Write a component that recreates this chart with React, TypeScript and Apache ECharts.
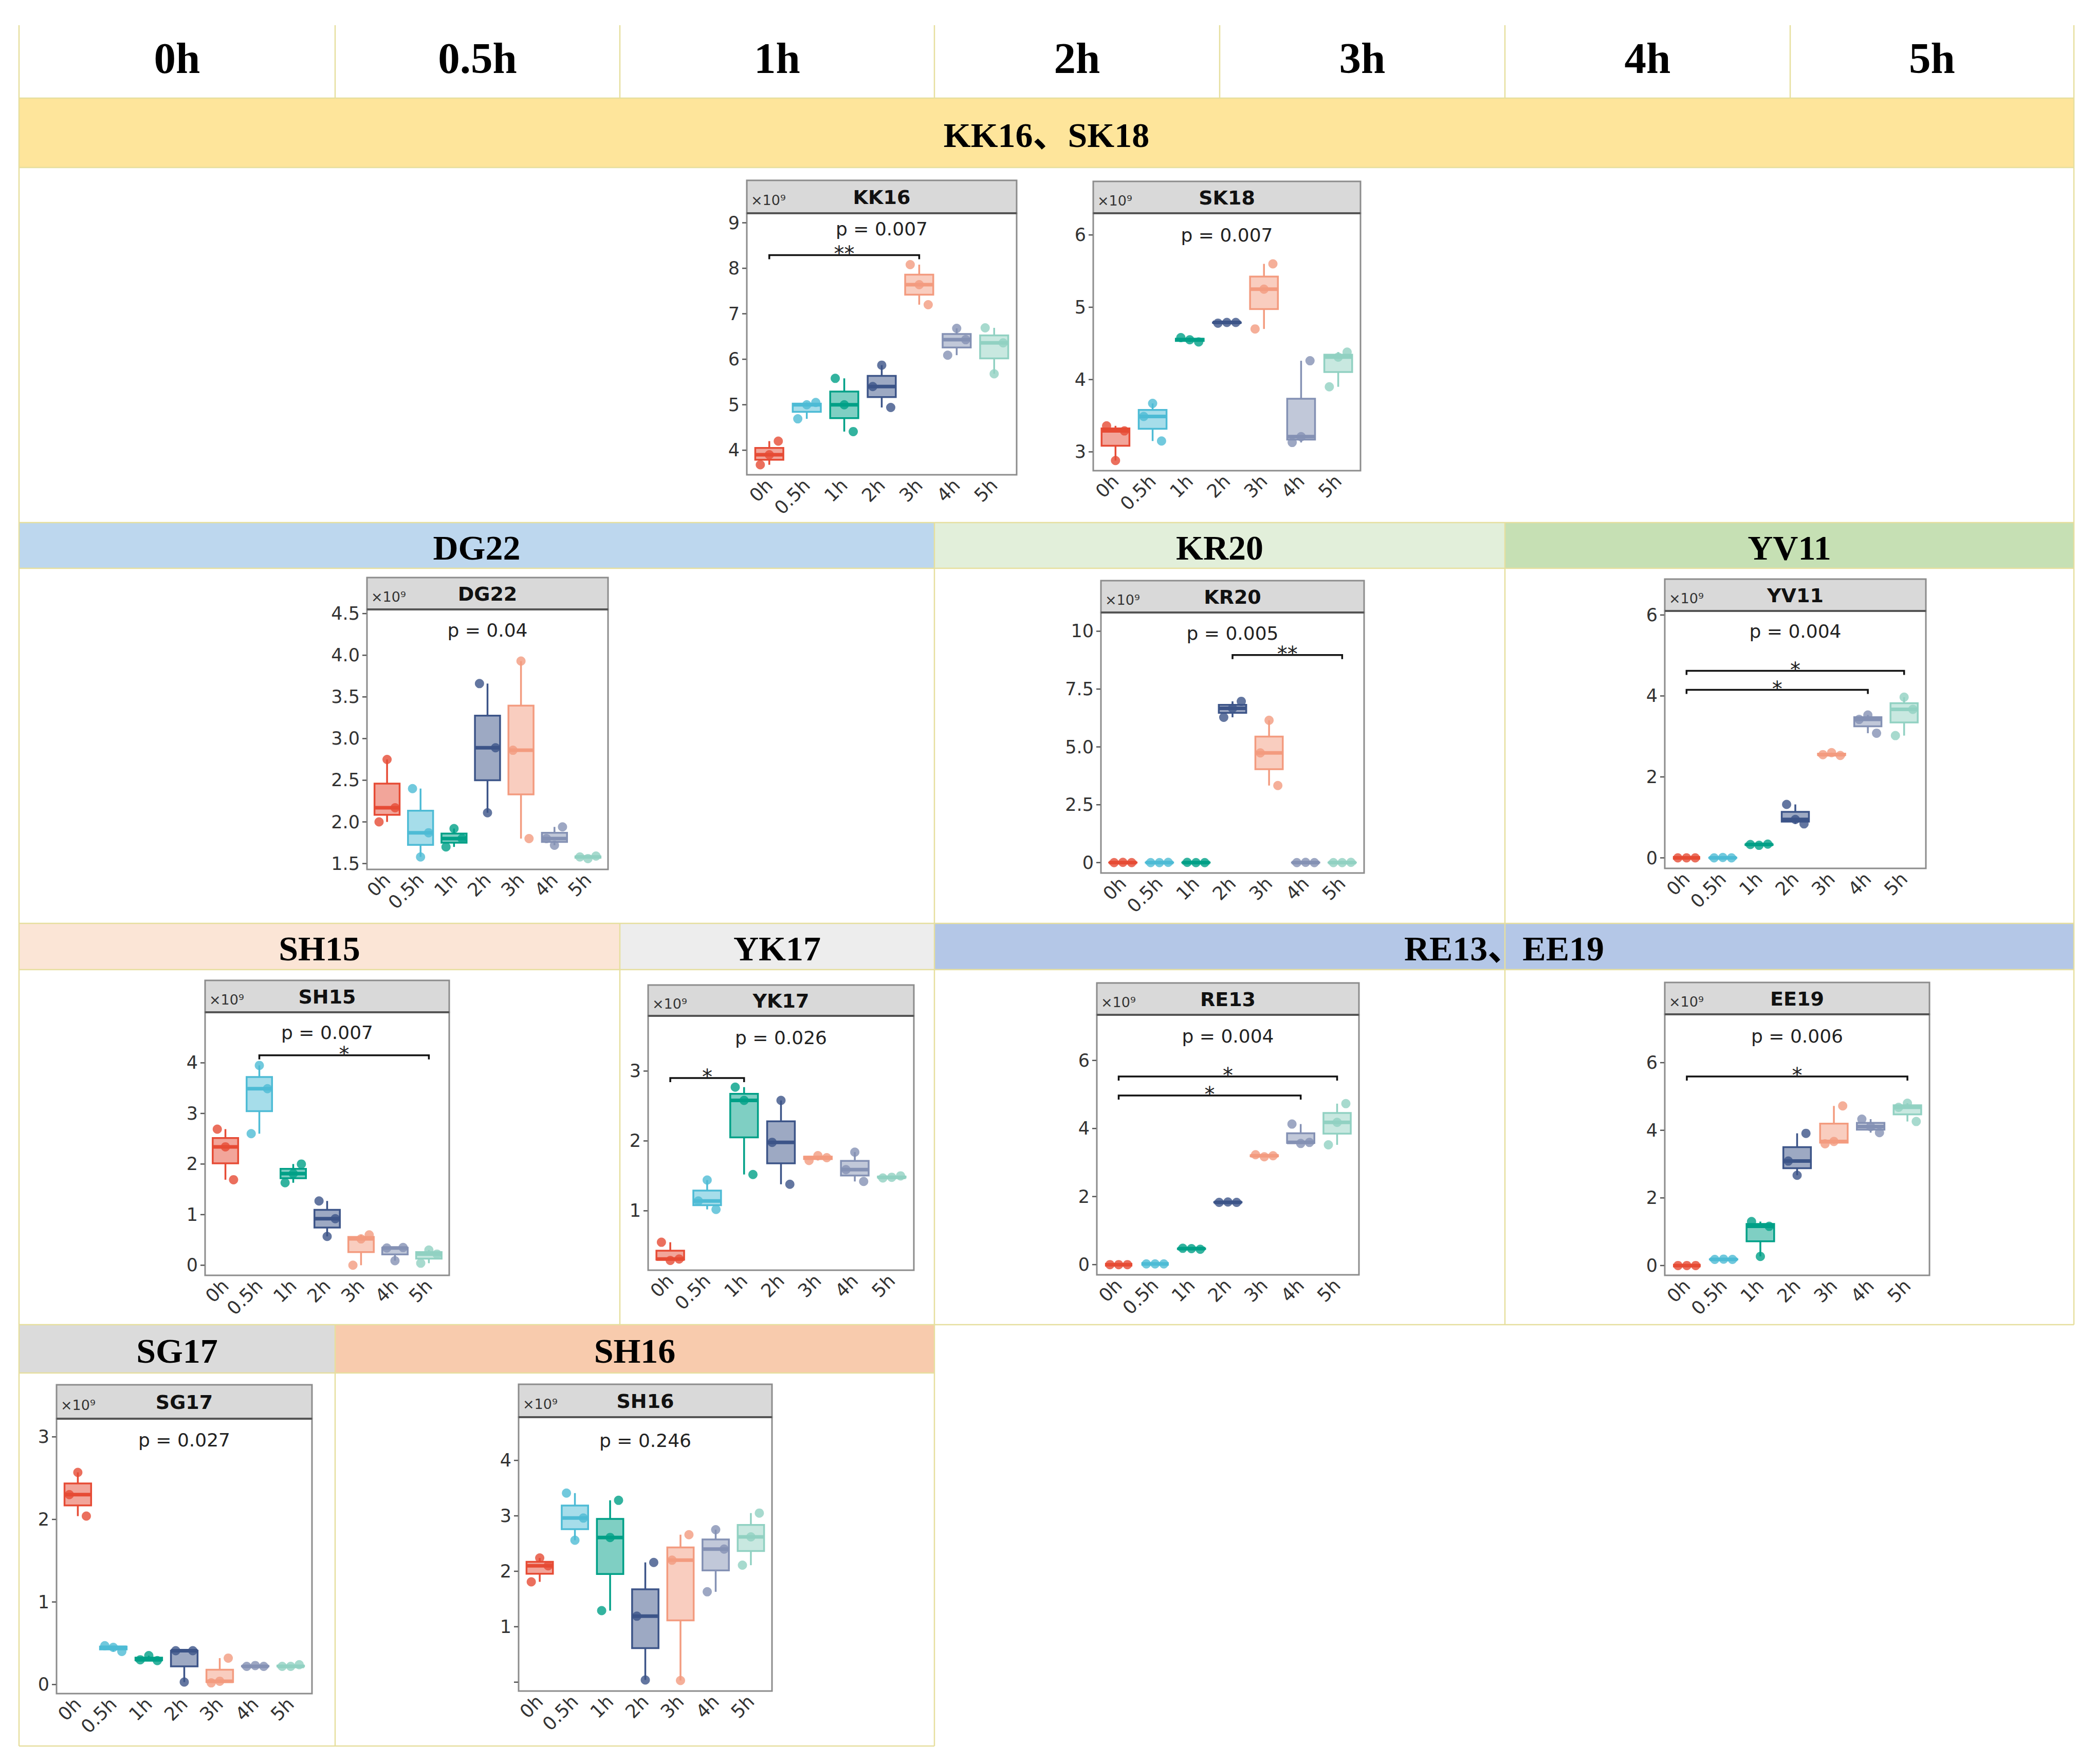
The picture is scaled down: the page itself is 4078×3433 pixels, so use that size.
import React, { useEffect, useRef } from "react";
import * as echarts from "echarts";

// ---------------- DATA ----------------
const CATEGORIES = ["0h", "0.5h", "1h", "2h", "3h", "4h", "5h"];
const HEADER_LABELS = ["0h", "0.5h", "1h", "2h", "3h", "4h", "5h"];
const BAND_LABELS = ["KK16、SK18", "DG22", "KR20", "YV11", "SH15", "YK17", "RE13、EE19", "SG17", "SH16"];
const PANEL_NAMES = ["KK16", "SK18", "DG22", "KR20", "YV11", "SH15", "YK17", "RE13", "EE19", "SG17", "SH16"];

// three replicates per time point (×10^9), listed in jitter order (left → right)
const KK16_VALUES = [[3.68, 3.9, 4.2], [4.69, 5.0, 5.05], [5.58, 5.0, 4.41], [5.4, 5.87, 4.94], [8.08, 7.64, 7.2], [6.09, 6.68, 6.43], [6.69, 5.68, 6.36]];
const SK18_VALUES = [[3.36, 2.88, 3.29], [3.49, 3.67, 3.15], [4.58, 4.55, 4.52], [4.78, 4.79, 4.79], [4.7, 5.25, 5.6], [3.13, 3.21, 4.26], [3.9, 4.31, 4.38]];
const DG22_VALUES = [[2.0, 2.75, 2.17], [2.4, 1.58, 1.87], [1.7, 1.92, 1.8], [3.66, 2.11, 2.89], [2.86, 3.93, 1.8], [1.8, 1.72, 1.94], [1.58, 1.56, 1.59]];
const KR20_VALUES = [[0.0, 0.01, 0.0], [0.0, 0.0, 0.01], [0.01, 0.0, 0.0], [6.28, 6.67, 6.97], [4.74, 6.15, 3.33], [0.0, 0.01, 0.0], [0.0, 0.0, 0.01]];
const YV11_VALUES = [[0.0, 0.0, 0.0], [0.0, 0.01, 0.0], [0.33, 0.31, 0.34], [1.32, 0.95, 0.84], [2.55, 2.6, 2.53], [3.42, 3.53, 3.08], [3.02, 3.97, 3.67]];
const SH15_VALUES = [[2.69, 2.34, 1.69], [2.6, 3.95, 3.49], [1.63, 1.81, 2.0], [1.27, 0.57, 0.92], [0.0, 0.52, 0.6], [0.34, 0.09, 0.35], [0.04, 0.3, 0.22]];
const YK17_VALUES = [[0.55, 0.29, 0.31], [1.14, 1.44, 1.02], [2.77, 2.58, 1.52], [1.98, 2.58, 1.38], [1.72, 1.79, 1.76], [1.59, 1.84, 1.42], [1.47, 1.48, 1.5]];
const RE13_VALUES = [[0.0, 0.0, 0.0], [0.02, 0.02, 0.02], [0.48, 0.47, 0.45], [1.83, 1.84, 1.83], [3.23, 3.17, 3.2], [4.13, 3.56, 3.59], [3.52, 4.18, 4.73]];
const EE19_VALUES = [[0.0, 0.0, 0.0], [0.18, 0.19, 0.18], [1.3, 0.27, 1.16], [3.09, 2.67, 3.91], [3.6, 3.67, 4.72], [4.33, 4.11, 3.93], [4.68, 4.8, 4.26]];
const SG17_VALUES = [[2.3, 2.57, 2.04], [0.47, 0.45, 0.4], [0.3, 0.35, 0.29], [0.41, 0.03, 0.41], [0.02, 0.04, 0.32], [0.22, 0.23, 0.22], [0.22, 0.22, 0.24]];
const SH16_VALUES = [[1.81, 2.24, 2.1], [3.41, 2.56, 2.96], [1.29, 2.61, 3.28], [1.19, 0.04, 2.16], [2.2, 0.03, 2.66], [1.63, 2.75, 2.4], [2.11, 2.62, 3.05]];

const PANEL_VALUES = [KK16_VALUES, SK18_VALUES, DG22_VALUES, KR20_VALUES, YV11_VALUES, SH15_VALUES, YK17_VALUES, RE13_VALUES, EE19_VALUES, SG17_VALUES, SH16_VALUES];

const Y_MIN = [3.46, 2.74, 1.43, -0.45, -0.26, -0.2, 0.15, -0.3, -0.29, -0.11, -0.16];
const Y_MAX = [9.21, 6.3, 4.55, 10.81, 6.1, 5.0, 3.79, 7.34, 7.43, 3.22, 4.78];
const Y_TICKS = [[4, 5, 6, 7, 8, 9], [3, 4, 5, 6], [1.5, 2, 2.5, 3, 3.5, 4, 4.5], [0, 2.5, 5, 7.5, 10], [0, 2, 4, 6], [0, 1, 2, 3, 4], [1, 2, 3], [0, 2, 4, 6], [0, 2, 4, 6], [0, 1, 2, 3], [0, 1, 2, 3, 4]];
const Y_TICK_LABELS = [
  ["4", "5", "6", "7", "8", "9"], ["3", "4", "5", "6"], ["1.5", "2.0", "2.5", "3.0", "3.5", "4.0", "4.5"],
  ["0", "2.5", "5.0", "7.5", "10"], ["0", "2", "4", "6"], ["0", "1", "2", "3", "4"], ["1", "2", "3"],
  ["0", "2", "4", "6"], ["0", "2", "4", "6"], ["0", "1", "2", "3"], ["", "1", "2", "3", "4"],
];
const P_LABELS = ["p = 0.007", "p = 0.007", "p = 0.04", "p = 0.005", "p = 0.004", "p = 0.007", "p = 0.026", "p = 0.004", "p = 0.006", "p = 0.027", "p = 0.246"];
const P_LABEL_Y = [8.86, 6.0, 4.3, 9.9, 5.6, 4.6, 3.48, 6.72, 6.78, 2.96, 4.36];
// [from group, to group, y value, label]
const BRACKETS: [number, number, number, string][][] = [
  [[0, 4, 8.29, "**"]], [], [], [[3, 6, 8.97, "**"]],
  [[0, 6, 4.62, "*"], [0, 5, 4.15, "*"]], [[1, 6, 4.15, "*"]], [[0, 2, 2.9, "*"]],
  [[0, 6, 5.53, "*"], [0, 5, 4.97, "*"]], [[0, 6, 5.59, "*"]], [], [],
];

// ---------------- LAYOUT & STYLE ----------------
const W = 4078;
const H = 3433;
const GROUP_COLORS = ["#E64B35", "#4DBBD5", "#00A087", "#3C5488", "#F39B7F", "#8491B4", "#91D1C2"];
const COL_X = [37, 652, 1206, 1818, 2373, 2928, 3483, 4035];
const BAND_RECTS = [
  [37, 4035, 191, 326], [37, 1818, 1017, 1106], [1818, 2928, 1017, 1106], [2928, 4035, 1017, 1106],
  [37, 1206, 1797, 1887], [1206, 1818, 1797, 1887], [1818, 4035, 1797, 1887],
  [37, 652, 2578, 2672], [652, 1818, 2578, 2672],
];
const BAND_COLORS = ["#FEE59B", "#BDD7EE", "#E2EFDA", "#C6E0B4", "#FBE5D6", "#EDEDED", "#B4C7E7", "#DBDBDB", "#F8CBAD"];
const BORDER = "#E6DF9E";
const V_LINES = [
  [37, 49, 3398], [4035, 49, 2578],
  [652, 49, 191], [1206, 49, 191], [2373, 49, 191], [2928, 49, 191], [3483, 49, 191], [1818, 49, 191],
  [1818, 1017, 3398], [2928, 1017, 2578], [1206, 1797, 2578], [652, 2578, 3398],
];
const H_LINES = [
  [191, 37, 4035], [326, 37, 4035], [1017, 37, 4035], [1106, 37, 4035],
  [1797, 37, 4035], [1887, 37, 4035], [2578, 37, 4035], [2672, 37, 1818], [3398, 37, 1818],
];
// [left, right, strip top, strip bottom (= plot top), plot bottom]
const PANEL_BOXES = [
  [1453, 1978, 351, 415, 924],
  [2127, 2647, 353, 415, 916],
  [714, 1183, 1124, 1186, 1692],
  [2142, 2654, 1130, 1192, 1699],
  [3239, 3747, 1127, 1189, 1690],
  [399, 874, 1908, 1970, 2482],
  [1261, 1778, 1917, 1977, 2472],
  [2134, 2644, 1913, 1975, 2481],
  [3239, 3754, 1912, 1974, 2482],
  [110, 607, 2695, 2761, 3296],
  [1009, 1502, 2694, 2758, 3291],
];
const X_MIN = -0.6;
const X_MAX = 6.6;
const JITTER = [-0.24, 0.0, 0.24];
const BOX_W = 0.75;
const LW = 3.5;
const TICK_LEN = 9;
const SANS = "DejaVu Sans";
const SERIF = "'Liberation Serif', 'Noto Sans CJK SC', serif";

function quantile(s: number[], p: number) {
  const h = (s.length - 1) * p;
  const lo = Math.floor(h);
  const hi = Math.min(lo + 1, s.length - 1);
  return s[lo] + (h - lo) * (s[hi] - s[lo]);
}
function boxStats(vals: number[]) {
  const s = [...vals].sort((a, b) => a - b);
  const q1 = quantile(s, 0.25), med = quantile(s, 0.5), q3 = quantile(s, 0.75);
  const iqr = q3 - q1;
  const lo = s.find((v) => v >= q1 - 1.5 * iqr) as number;
  const hi = [...s].reverse().find((v) => v <= q3 + 1.5 * iqr) as number;
  return [lo, q1, med, q3, hi];
}
function rgba(hex: string, a: number) {
  const n = parseInt(hex.slice(1), 16);
  return `rgba(${(n >> 16) & 255},${(n >> 8) & 255},${n & 255},${a})`;
}

function buildOption() {
  const grids: any[] = [];
  const xAxes: any[] = [];
  const yAxes: any[] = [];
  const series: any[] = [];
  const graphics: any[] = [];

  // table
  BAND_RECTS.forEach((r, i) => {
    graphics.push({ type: "rect", z: 0, shape: { x: r[0], y: r[2], width: r[1] - r[0], height: r[3] - r[2] }, style: { fill: BAND_COLORS[i] } });
    graphics.push({
      type: "text", z: 5, x: (r[0] + r[1]) / 2, y: (r[2] + r[3]) / 2 + 4,
      style: { text: BAND_LABELS[i], fontFamily: SERIF, fontWeight: "bold", fontSize: 68, fill: "#000", align: "center", verticalAlign: "middle", textAlign: "center", textVerticalAlign: "middle" },
    });
  });
  V_LINES.forEach((l) => graphics.push({ type: "line", z: 1, shape: { x1: l[0], y1: l[1], x2: l[0], y2: l[2] }, style: { stroke: BORDER, lineWidth: 2.5 } }));
  H_LINES.forEach((l) => graphics.push({ type: "line", z: 1, shape: { x1: l[1], y1: l[0], x2: l[2], y2: l[0] }, style: { stroke: BORDER, lineWidth: 2.5 } }));
  HEADER_LABELS.forEach((t, i) => {
    graphics.push({
      type: "text", z: 5, x: (COL_X[i] + COL_X[i + 1]) / 2, y: 113,
      style: { text: t, fontFamily: SERIF, fontWeight: "bold", fontSize: 85, fill: "#000", align: "center", verticalAlign: "middle", textAlign: "center", textVerticalAlign: "middle" },
    });
  });

  PANEL_NAMES.forEach((name, k) => {
    const [x0, x1, st, sb, pb] = PANEL_BOXES[k];
    // strip
    graphics.push({ type: "rect", z: 10, shape: { x: x0, y: st, width: x1 - x0, height: sb - st }, style: { fill: "#D9D9D9", stroke: "#8C8C8C", lineWidth: 3 } });
    graphics.push({ type: "line", z: 11, shape: { x1: x0, y1: sb, x2: x1, y2: sb }, style: { stroke: "#555", lineWidth: 4 } });
    graphics.push({
      type: "text", z: 12, x: (x0 + x1) / 2, y: (st + sb) / 2 + 1,
      style: { text: name, fontFamily: SANS, fontWeight: "bold", fontSize: 38, fill: "#111", align: "center", verticalAlign: "middle", textAlign: "center", textVerticalAlign: "middle" },
    });
    graphics.push({
      type: "text", z: 12, x: x0 + 8, y: st + (sb - st) * 0.6,
      style: { text: "×10⁹", fontFamily: SANS, fontSize: 27, fill: "#333", align: "left", verticalAlign: "middle", textAlign: "left", textVerticalAlign: "middle" },
    });

    grids.push({ left: x0, top: sb, width: x1 - x0, height: pb - sb, show: true, borderColor: "#8C8C8C", borderWidth: 3, backgroundColor: "#fff", containLabel: false });
    xAxes.push({
      gridIndex: k, type: "value", min: X_MIN, max: X_MAX,
      axisLine: { show: false }, splitLine: { show: false }, axisTick: { show: false },
      axisLabel: {
        customValues: [0, 1, 2, 3, 4, 5, 6], rotate: 45, margin: 14, fontSize: 36, color: "#333", fontFamily: SANS,
        formatter: (v: number) => CATEGORIES[Math.round(v)] ?? "",
      },
    });
    const ticks = Y_TICKS[k];
    const labels = Y_TICK_LABELS[k];
    yAxes.push({
      gridIndex: k, type: "value", min: Y_MIN[k], max: Y_MAX[k],
      axisLine: { show: false }, splitLine: { show: false }, axisTick: { show: false },
      axisLabel: {
        customValues: ticks, margin: TICK_LEN + 5, fontSize: 35, color: "#333", fontFamily: SANS,
        formatter: (v: number) => {
          const i = ticks.findIndex((t) => Math.abs(t - v) < 1e-6);
          return i >= 0 ? labels[i] : "";
        },
      },
    });

    // y tick marks drawn through the y scale
    series.push({
      type: "custom", xAxisIndex: k, yAxisIndex: k, z: 6, silent: true, clip: false,
      data: ticks.map((t) => [X_MIN, t]), encode: { x: 0, y: 1 },
      renderItem: (params: any, api: any) => {
        const p = api.coord([api.value(0), api.value(1)]);
        return { type: "line", shape: { x1: p[0] - TICK_LEN, y1: p[1], x2: p[0] - 1, y2: p[1] }, style: { stroke: "#555", lineWidth: 2.5 } };
      },
    });

    const vals = PANEL_VALUES[k];
    const boxData = vals.map((g, i) => [i, ...boxStats(g)]);
    series.push({
      type: "custom", xAxisIndex: k, yAxisIndex: k, z: 2, silent: true,
      data: boxData, encode: { x: 0, y: [1, 5] },
      renderItem: (params: any, api: any) => {
        const i = api.value(0);
        const color = GROUP_COLORS[i];
        const cx = api.coord([i, 0])[0];
        const left = api.coord([i - BOX_W / 2, 0])[0];
        const right = api.coord([i + BOX_W / 2, 0])[0];
        const yLo = api.coord([i, api.value(1)])[1];
        const yQ1 = api.coord([i, api.value(2)])[1];
        const yMed = api.coord([i, api.value(3)])[1];
        const yQ3 = api.coord([i, api.value(4)])[1];
        const yHi = api.coord([i, api.value(5)])[1];
        return {
          type: "group",
          children: [
            { type: "line", shape: { x1: cx, y1: yLo, x2: cx, y2: yQ1 }, style: { stroke: color, lineWidth: LW } },
            { type: "line", shape: { x1: cx, y1: yQ3, x2: cx, y2: yHi }, style: { stroke: color, lineWidth: LW } },
            { type: "rect", shape: { x: left, y: yQ3, width: right - left, height: yQ1 - yQ3 }, style: { fill: rgba(color, 0.5), stroke: color, lineWidth: LW } },
            { type: "line", shape: { x1: left, y1: yMed, x2: right, y2: yMed }, style: { stroke: color, lineWidth: LW * 2 } },
          ],
        };
      },
    });
    const pts: any[] = [];
    vals.forEach((g, i) => g.forEach((v, j) => pts.push({ value: [i + JITTER[j], v], itemStyle: { color: GROUP_COLORS[i] } })));
    series.push({ type: "scatter", xAxisIndex: k, yAxisIndex: k, z: 3, silent: true, symbolSize: 18, data: pts });

    series.push({
      type: "custom", xAxisIndex: k, yAxisIndex: k, z: 4, silent: true, clip: false,
      data: [[3, P_LABEL_Y[k]]], encode: { x: 0, y: 1 },
      renderItem: (params: any, api: any) => {
        const p = api.coord([api.value(0), api.value(1)]);
        return {
          type: "text", x: p[0], y: p[1],
          style: { text: P_LABELS[k], fontFamily: SANS, fontSize: 36, fill: "#222", align: "center", verticalAlign: "middle", textAlign: "center", textVerticalAlign: "middle" },
        };
      },
    });

    if (BRACKETS[k].length) {
      const br = BRACKETS[k];
      series.push({
        type: "custom", xAxisIndex: k, yAxisIndex: k, z: 5, silent: true, clip: false,
        data: br.map((b) => [b[0], b[1], b[2]]), encode: { x: [0, 1], y: 2 },
        renderItem: (params: any, api: any) => {
          const a = api.coord([api.value(0), api.value(2)]);
          const b = api.coord([api.value(1), api.value(2)]);
          const lab = br[params.dataIndex][3];
          return {
            type: "group",
            children: [
              { type: "polyline", shape: { points: [[a[0], a[1] + 8], [a[0], a[1]], [b[0], b[1]], [b[0], b[1] + 8]] }, style: { stroke: "#111", lineWidth: 3.5, fill: "none" } },
              {
                type: "text", x: (a[0] + b[0]) / 2, y: a[1] - 2,
                style: { text: lab, fontFamily: SANS, fontSize: 40, fill: "#222", align: "center", verticalAlign: "middle", textAlign: "center", textVerticalAlign: "middle" },
              },
            ],
          };
        },
      });
    }
  });

  return {
    animation: false,
    backgroundColor: "#fff",
    grid: grids,
    xAxis: xAxes,
    yAxis: yAxes,
    series,
    graphic: { elements: graphics },
  };
}

export default function App() {
  const ref = useRef<HTMLDivElement>(null);
  useEffect(() => {
    const chart = echarts.init(ref.current as HTMLDivElement, null, { renderer: "svg" });
    chart.setOption(buildOption() as any);
    return () => chart.dispose();
  }, []);
  return <div ref={ref} style={{ position: "fixed", left: 0, top: 0, width: W, height: H, background: "#fff" }} />;
}
